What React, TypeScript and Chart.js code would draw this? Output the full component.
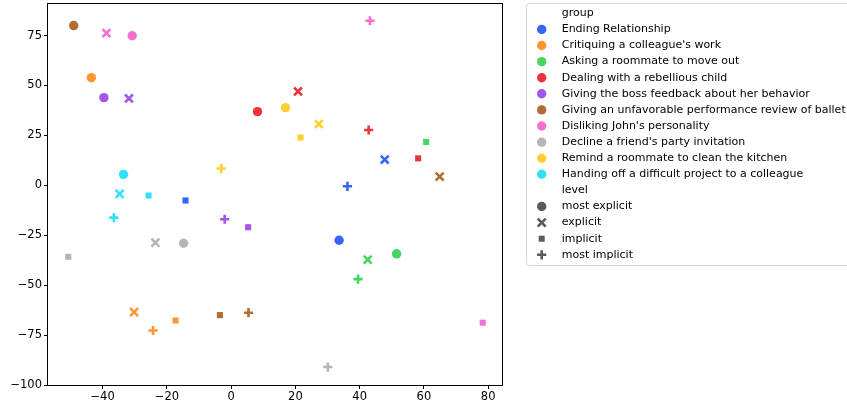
import React, { useEffect, useRef } from 'react';
import { Chart, registerables } from 'chart.js';
Chart.register(...registerables);

const groups = [
  'Ending Relationship',
  "Critiquing a colleague's work",
  'Asking a roommate to move out',
  'Dealing with a rebellious child',
  'Giving the boss feedback about her behavior',
  'Giving an unfavorable performance review of ballet',
  "Disliking John's personality",
  "Decline a friend's party invitation",
  'Remind a roommate to clean the kitchen',
  'Handing off a difficult project to a colleague',
];
const groupColors = [
  '#3565ff', '#ff9633', '#48d460', '#ed333c', '#a255e8',
  '#b26d33', '#f470cd', '#b5b5b5', '#ffd033', '#33dfff',
];
const levels = ['most explicit', 'explicit', 'implicit', 'most implicit'];

// each group: [most explicit, explicit, implicit, most implicit] as [x, y]
const endingRelationship = [[33.6, -27.5], [47.8, 12.9], [-14.2, -7.6], [36.2, -0.5]];
const critiquingWork = [[-43.5, 53.9], [-30.2, -63.5], [-17.3, -67.7], [-24.3, -72.7]];
const askingMoveOut = [[51.5, -34.3], [42.5, -37.2], [60.7, 21.7], [39.5, -47.0]];
const rebelliousChild = [[8.2, 36.9], [20.8, 47.0], [58.2, 13.5], [42.8, 27.7]];
const bossFeedback = [[-39.6, 43.9], [-31.8, 43.5], [5.3, -21.0], [-2.0, -17.0]];
const balletReview = [[-49.0, 80.0], [64.9, 4.4], [-3.5, -65.0], [5.4, -63.8]];
const dislikingJohn = [[-30.8, 74.9], [-38.8, 76.2], [78.3, -68.8], [43.2, 82.4]];
const declineParty = [[-14.8, -29.0], [-23.6, -28.7], [-50.7, -35.8], [30.1, -91.0]];
const remindKitchen = [[16.9, 38.9], [27.3, 30.7], [21.6, 23.9], [-3.1, 8.4]];
const handingProject = [[-33.5, 5.5], [-34.7, -4.3], [-25.7, -5.1], [-36.5, -16.2]];

const groupPoints = [
  endingRelationship, critiquingWork, askingMoveOut, rebelliousChild, bossFeedback,
  balletReview, dislikingJohn, declineParty, remindKitchen, handingProject,
];

const xTicks = [-40, -20, 0, 20, 40, 60, 80];
const yTicks = [-100, -75, -50, -25, 0, 25, 50, 75];

const levelStyles = ['circle', 'crossRot', 'rect', 'cross'];
const levelRadius = [4.7, 5.6, 4.3, 4.6];
const levelBorder = [0, 2.6, 0, 2.6];

const fmt = (v: number) => (v < 0 ? '\u2212' + Math.abs(v) : String(v));

function drawMarker(ctx: CanvasRenderingContext2D, style: string, x: number, y: number, color: string) {
  ctx.save();
  ctx.fillStyle = color;
  ctx.strokeStyle = color;
  ctx.lineWidth = 2.6;
  ctx.beginPath();
  if (style === 'circle') {
    ctx.arc(x, y, 4.7, 0, Math.PI * 2);
    ctx.fill();
  } else if (style === 'rect') {
    ctx.rect(x - 3, y - 3, 6, 6);
    ctx.fill();
  } else if (style === 'crossRot') {
    const d = 4;
    ctx.moveTo(x - d, y - d); ctx.lineTo(x + d, y + d);
    ctx.moveTo(x - d, y + d); ctx.lineTo(x + d, y - d);
    ctx.stroke();
  } else {
    const d = 4.6;
    ctx.moveTo(x - d, y); ctx.lineTo(x + d, y);
    ctx.moveTo(x, y - d); ctx.lineTo(x, y + d);
    ctx.stroke();
  }
  ctx.restore();
}

const framePlugin = {
  id: 'framePlugin',
  afterDraw(chart: any) {
    const ctx: CanvasRenderingContext2D = chart.ctx;
    const a = chart.chartArea;
    ctx.save();
    ctx.strokeStyle = '#000';
    ctx.lineWidth = 1;
    ctx.strokeRect(Math.round(a.left) - 0.5, Math.round(a.top) - 0.5, Math.round(a.right - a.left) + 1, Math.round(a.bottom - a.top) + 1);

    const bx = 526.5, by = 3.5, bw = 340, bh = 262;
    ctx.fillStyle = 'rgba(255,255,255,0.8)';
    ctx.strokeStyle = '#d6d6d6';
    ctx.beginPath();
    const r = 3;
    ctx.moveTo(bx + r, by);
    ctx.lineTo(bx + bw - r, by);
    ctx.arcTo(bx + bw, by, bx + bw, by + r, r);
    ctx.lineTo(bx + bw, by + bh - r);
    ctx.arcTo(bx + bw, by + bh, bx + bw - r, by + bh, r);
    ctx.lineTo(bx + r, by + bh);
    ctx.arcTo(bx, by + bh, bx, by + bh - r, r);
    ctx.lineTo(bx, by + r);
    ctx.arcTo(bx, by, bx + r, by, r);
    ctx.closePath();
    ctx.fill();
    ctx.stroke();

    ctx.font = '11px "DejaVu Sans"';
    ctx.textBaseline = 'middle';
    ctx.textAlign = 'left';
    const mx = 541.7, tx = 561.7, y0 = 13.3, dy = 16.1;
    let row = 0;
    const text = (s: string) => {
      ctx.fillStyle = '#000';
      ctx.fillText(s, tx, y0 + row * dy);
    };
    text('group'); row++;
    groups.forEach((g, i) => {
      drawMarker(ctx, 'circle', mx, y0 + row * dy, groupColors[i]);
      text(g); row++;
    });
    text('level'); row++;
    levels.forEach((l, i) => {
      drawMarker(ctx, levelStyles[i], mx, y0 + row * dy, '#5a5a5a');
      text(l); row++;
    });
    ctx.restore();
  },
};

export default function App() {
  const ref = useRef<HTMLCanvasElement | null>(null);
  useEffect(() => {
    if (!ref.current) return;
    const datasets = groups.map((g, i) => ({
      label: g,
      data: groupPoints[i].map(([x, y]) => ({ x, y })),
      backgroundColor: groupColors[i],
      borderColor: groupColors[i],
      pointStyle: levelStyles,
      pointRadius: levelRadius,
      pointBorderWidth: levelBorder,
      pointHoverRadius: levelRadius,
    }));
    const tickFont = { family: '"DejaVu Sans"', size: 11.5 };
    const chart = new Chart(ref.current, {
      type: 'scatter',
      data: { datasets: datasets as any },
      options: {
        animation: false,
        responsive: false,
        devicePixelRatio: 1,
        layout: { autoPadding: false, padding: { left: 0, top: 4, right: 345, bottom: 0 } },
        plugins: { legend: { display: false }, tooltip: { enabled: false } },
        scales: {
          x: {
            type: 'linear',
            min: -57,
            max: 84.3,
            afterBuildTicks: (s: any) => { s.ticks = xTicks.map((v) => ({ value: v })); },
            afterFit: (s: any) => { s.height = 19; s.paddingLeft = 0; s.paddingRight = 0; },
            ticks: { font: tickFont, color: '#000', padding: 1, maxRotation: 0, callback: (v: any) => fmt(Number(v)) },
            grid: { drawOnChartArea: false, drawTicks: true, tickLength: 4, color: '#000' },
            border: { display: false },
          },
          y: {
            type: 'linear',
            min: -100,
            max: 90.8,
            afterBuildTicks: (s: any) => { s.ticks = yTicks.map((v) => ({ value: v })); },
            afterFit: (s: any) => { s.width = 48; s.paddingTop = 0; s.paddingBottom = 0; },
            ticks: { font: tickFont, color: '#000', padding: 2, callback: (v: any) => fmt(Number(v)) },
            grid: { drawOnChartArea: false, drawTicks: true, tickLength: 4, color: '#000' },
            border: { display: false },
          },
        },
      },
      plugins: [framePlugin],
    });
    return () => chart.destroy();
  }, []);
  return (
    <div style={{ position: 'fixed', left: 0, top: 0, width: 847, height: 404, background: '#fff' }}>
      <canvas ref={ref} width={847} height={404} style={{ display: 'block', width: 847, height: 404 }} />
    </div>
  );
}
